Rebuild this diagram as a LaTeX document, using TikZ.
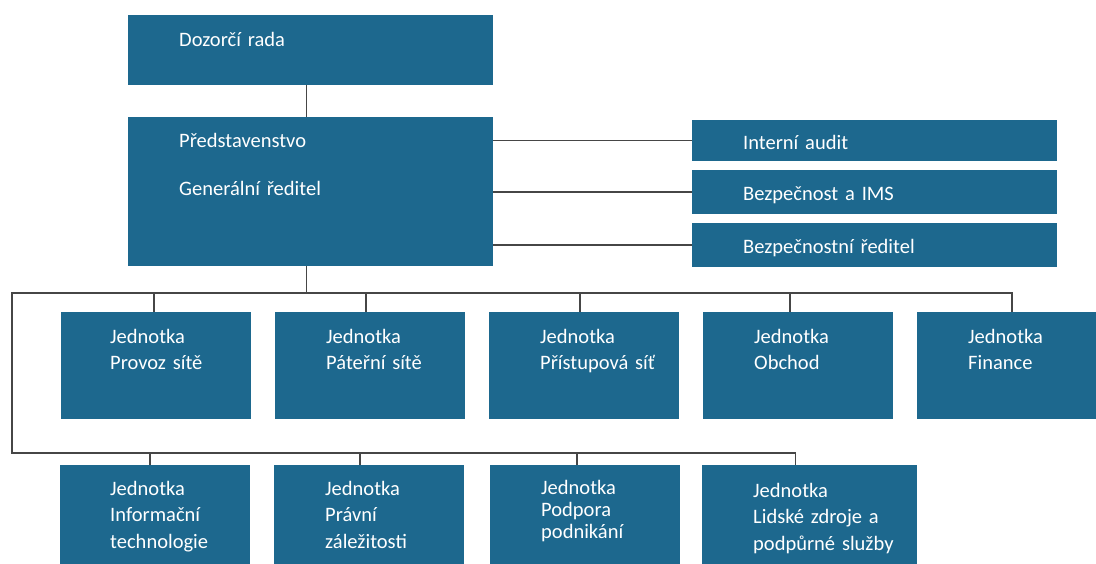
\documentclass[tikz,border=0pt]{standalone}
\usepackage{fontspec}
\setmainfont{Carlito}
\usepackage{xcolor}
\usetikzlibrary{positioning}

\definecolor{unitblue}{RGB}{29,104,142}
\definecolor{linegray}{RGB}{70,70,70}

\begin{document}
\begin{tikzpicture}[
        x=1pt, y=-1pt,
        unit/.style={rectangle, fill=unitblue, inner sep=0pt, outer sep=0pt, minimum width=190pt, minimum height=107pt},
        txt/.style={anchor=north west, inner sep=0pt, text height=0pt, text width=175pt, align=left, text=white, font=\fontsize{20.5}{26.5}\selectfont},
        link/.style={draw=linegray, line width=1.3pt}
    ]
        \useasboundingbox (0,0) rectangle (1096,564);
        \clip (0,0) rectangle (1096,564);

        % Nodes
        \node[unit, anchor=north west, minimum width=365pt, minimum height=70pt] (dozor) at (128,15) {};
        \node[unit, below=32pt of dozor, minimum width=365pt, minimum height=149pt] (predst) {};

        \node[unit, anchor=north west, minimum width=365pt, minimum height=41pt] (audit) at (692,120) {};
        \node[unit, below=9pt of audit, minimum width=365pt, minimum height=44pt] (bezp) {};
        \node[unit, below=9pt of bezp, minimum width=365pt, minimum height=44pt] (bezpred) {};

        \node[unit, anchor=north west] (provoz) at (61,312) {};
        \node[unit, right=24pt of provoz] (pater) {};
        \node[unit, right=24pt of pater] (pristup) {};
        \node[unit, right=24pt of pristup] (obchod) {};
        \node[unit, right=24pt of obchod] (finance) {};

        \node[unit, anchor=north west] (it) at (60,465) {};
        \node[unit, right=24pt of it] (pravo) {};
        \node[unit, right=26pt of pravo] (podpora) {};
        \node[unit, right=22pt of podpora, minimum width=215pt] (lidske) {};

        % Texts
        \node[txt] (dozor-t) at ([shift={(51pt,-31pt)}]dozor.north west) {Dozorčí rada};
        \node[txt] (predst-t) at ([shift={(51pt,-30pt)}]predst.north west) {Představenstvo\\[21.5pt]Generální ředitel};
        \node[txt] (audit-t) at ([shift={(51pt,-29pt)}]audit.north west) {Interní audit};
        \node[txt] (bezp-t) at ([shift={(51pt,-30pt)}]bezp.north west) {Bezpečnost a IMS};
        \node[txt] (bezpred-t) at ([shift={(51pt,-30pt)}]bezpred.north west) {Bezpečnostní ředitel};

        \node[txt] (provoz-t) at ([shift={(49pt,-31pt)}]provoz.north west) {Jednotka\\Provoz sítě};
        \node[txt] (pater-t) at ([shift={(51pt,-31pt)}]pater.north west) {Jednotka\\Páteřní sítě};
        \node[txt] (pristup-t) at ([shift={(51pt,-31pt)}]pristup.north west) {Jednotka\\Přístupová síť};
        \node[txt] (obchod-t) at ([shift={(51pt,-31pt)}]obchod.north west) {Jednotka\\Obchod};
        \node[txt] (finance-t) at ([shift={(51pt,-31pt)}]finance.north west) {Jednotka\\Finance};

        \node[txt] (it-t) at ([shift={(50pt,-30pt)}]it.north west) {Jednotka\\Informační\\technologie};
        \node[txt] (pravo-t) at ([shift={(51pt,-30pt)}]pravo.north west) {Jednotka\\Právní\\záležitosti};
        \node[txt, font=\fontsize{20.5}{22}\selectfont] (podpora-t) at ([shift={(51pt,-29pt)}]podpora.north west) {Jednotka\\Podpora\\podnikání};
        \node[txt] (lidske-t) at ([shift={(51pt,-32pt)}]lidske.north west) {Jednotka\\Lidské zdroje a\\podpůrné služby};

        % Lines
        \coordinate (bustop) at (12,293);
        \coordinate (buslow) at (12,453);

        \draw[link] ([xshift=-4pt]dozor.south) -- ([xshift=-4pt]predst.north);
        \draw[link] ([xshift=-4pt]predst.south) -- ([xshift=-4pt]predst.south |- bustop);
        \draw[link] (finance.north) |- (bustop) -- (buslow) -| ([xshift=-14pt]lidske.north);
        \foreach \u/\d in {provoz/-2, pater/-4, pristup/-4, obchod/-8}
            \draw[link] ([xshift=\d pt]\u.north) -- ([xshift=\d pt]\u.north |- bustop);
        \foreach \u/\d in {it/-5, pravo/-9, podpora/-8}
            \draw[link] ([xshift=\d pt]\u.north) -- ([xshift=\d pt]\u.north |- buslow);
        \foreach \u in {audit, bezp, bezpred}
            \draw[link] (predst.east |- \u.west) -- (\u.west);
    \end{tikzpicture}
\end{document}
